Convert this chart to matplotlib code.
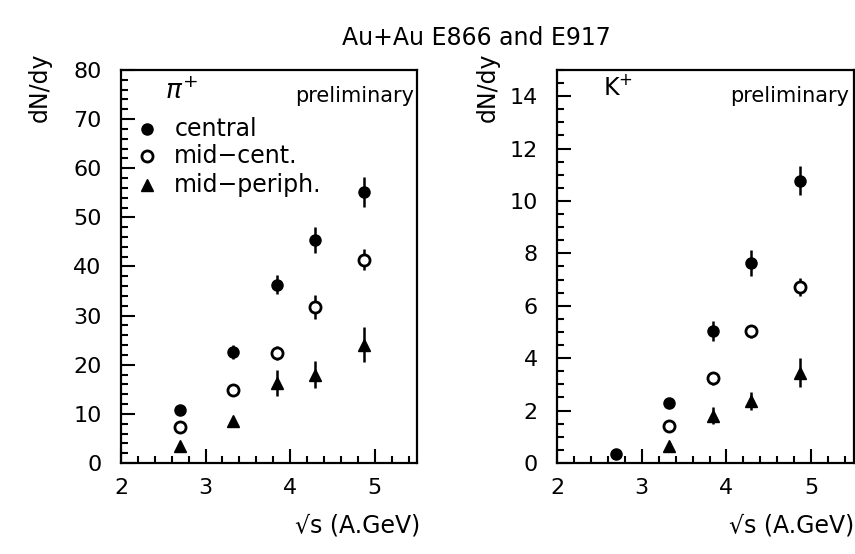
"""Au+Au E866/E917 pi+ and K+ dN/dy vs sqrt(s), two panels
"""
import matplotlib
matplotlib.use("Agg")
import matplotlib.pyplot as plt
from matplotlib.ticker import MultipleLocator

# sqrt(s) per beam energy (A.GeV)
sqrts = [2.70, 3.32, 3.84, 4.29, 4.87]

# pi+ dN/dy
pi_central = [10.8, 22.6, 36.3, 45.4, 55.2]
pi_central_err = [0.6, 1.5, 2.0, 2.6, 3.1]
pi_midcent = [7.4, 14.9, 22.4, 31.8, 41.4]
pi_midcent_err = [0.5, 0.6, 1.5, 2.4, 2.2]
pi_midper = [3.4, 8.6, 16.3, 18.0, 24.1]
pi_midper_err = [0.4, 0.6, 2.7, 2.7, 3.6]

# K+ dN/dy (no mid-cent / mid-periph at lowest energy)
k_central = [0.33, 2.28, 5.02, 7.63, 10.78]
k_central_err = [0.05, 0.1, 0.38, 0.49, 0.57]
k_sqrts_mid = [3.32, 3.84, 4.29, 4.87]
k_midcent = [1.41, 3.24, 5.02, 6.72]
k_midcent_err = [0.08, 0.25, 0.25, 0.33]
k_midper = [0.65, 1.80, 2.37, 3.45]
k_midper_err = [0.05, 0.32, 0.35, 0.54]

plt.rcParams["font.family"] = ["DejaVu Sans"]

fig = plt.figure(figsize=(8.55, 5.54), dpi=100)
ax1 = fig.add_axes([0.1415, 0.1643, 0.3462, 0.7094])
ax2 = fig.add_axes([0.6515, 0.1643, 0.3468, 0.7094])

mk = dict(color="black", ls="none", elinewidth=1.8, capsize=0, markersize=8)


def style(ax, ymax, ymaj, ymin):
    ax.set_xlim(2, 5.5)
    ax.set_ylim(0, ymax)
    ax.xaxis.set_major_locator(MultipleLocator(1))
    ax.xaxis.set_minor_locator(MultipleLocator(0.2))
    ax.yaxis.set_major_locator(MultipleLocator(ymaj))
    ax.yaxis.set_minor_locator(MultipleLocator(ymin))
    ax.tick_params(which="both", direction="in", top=False, right=False,
                   width=1.5, labelsize=16)
    ax.tick_params(which="major", length=10)
    ax.tick_params(which="minor", length=5)
    ax.tick_params(axis="x", pad=11)
    ax.tick_params(axis="y", pad=14)
    for s in ax.spines.values():
        s.set_linewidth(1.6)


# pi+ panel
ax1.errorbar(sqrts, pi_central, yerr=pi_central_err, fmt="o", mfc="black", **mk)
ax1.errorbar(sqrts, pi_midcent, yerr=pi_midcent_err, fmt="o", mfc="white",
             mew=2, **mk)
ax1.errorbar(sqrts, pi_midper, yerr=pi_midper_err, fmt="^", mfc="black", **mk)
style(ax1, 80, 10, 2)
ax1.text(0.15, 0.945, r"$\pi^{+}$", transform=ax1.transAxes, fontsize=19,
         ha="left", va="center")
ax1.text(0.99, 0.935, "preliminary", transform=ax1.transAxes, fontsize=15,
         ha="right", va="center")

# legend by hand
leg_labels = ["central", "mid\u2212cent.", "mid\u2212periph."]
leg_y = [0.85, 0.78, 0.707]
ax1.plot([0.087], [leg_y[0]], "o", color="black", ms=8, transform=ax1.transAxes)
ax1.plot([0.087], [leg_y[1]], "o", mfc="white", mec="black", mew=2, ms=8,
         transform=ax1.transAxes)
ax1.plot([0.087], [leg_y[2]], "^", color="black", ms=8, transform=ax1.transAxes)
for lab, yy in zip(leg_labels, leg_y):
    ax1.text(0.18, yy, lab, transform=ax1.transAxes, fontsize=17,
             ha="left", va="center")

# K+ panel
ax2.errorbar(sqrts, k_central, yerr=k_central_err, fmt="o", mfc="black", **mk)
ax2.errorbar(k_sqrts_mid, k_midcent, yerr=k_midcent_err, fmt="o", mfc="white",
             mew=2, **mk)
ax2.errorbar(k_sqrts_mid, k_midper, yerr=k_midper_err, fmt="^", mfc="black", **mk)
style(ax2, 15, 2, 0.5)
ax2.text(0.155, 0.955, r"K$^{+}$", transform=ax2.transAxes, fontsize=17,
         ha="left", va="center")
ax2.text(0.985, 0.935, "preliminary", transform=ax2.transAxes, fontsize=15,
         ha="right", va="center")

# axis labels
fig.text(0.047, 0.905, "dN/dy", rotation=90, fontsize=17, ha="center", va="top")
fig.text(0.570, 0.905, "dN/dy", rotation=90, fontsize=17, ha="center", va="top")
fig.text(0.491, 0.052, "\u221as (A.GeV)", fontsize=17, ha="right", va="center")
fig.text(0.999, 0.052, "\u221as (A.GeV)", fontsize=17, ha="right", va="center")

fig.text(0.557, 0.932, "Au+Au E866 and E917", fontsize=17, ha="center",
         va="center")

fig.savefig("out.png", dpi=100)
